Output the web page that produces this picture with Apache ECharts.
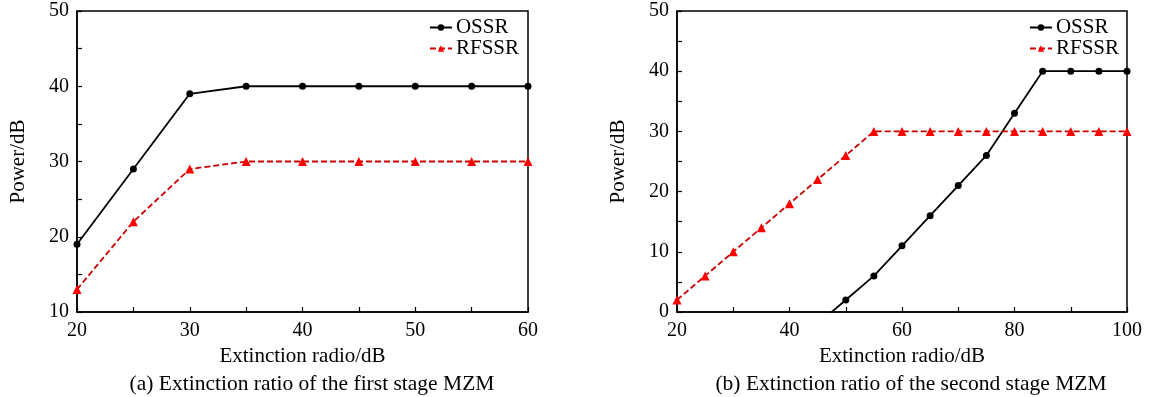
<!DOCTYPE html>
<html><head><meta charset="utf-8">
<script src="https://cdn.jsdelivr.net/npm/echarts@6/dist/echarts.min.js"></script>
<style>html,body{margin:0;padding:0;background:#fff}#c{width:1153px;height:397px}</style>
</head><body><div id="c"></div>
<script>
const xA = [20, 25, 30, 35, 40, 45, 50, 55, 60];
const ossrA = [19, 29, 39, 40, 40, 40, 40, 40, 40];
const rfssrA = [13, 22, 29, 30, 30, 30, 30, 30, 30];
const xB = [20, 25, 30, 35, 40, 45, 50, 55, 60, 65, 70, 75, 80, 85, 90, 95, 100];
const ossrB = [null, null, null, null, null, -2, 2, 6, 11, 16, 21, 26, 33, 40, 40, 40, 40];
const rfssrB = [2, 6, 10, 14, 18, 22, 26, 30, 30, 30, 30, 30, 30, 30, 30, 30, 30];
const captions = ['(a) Extinction ratio of the first stage MZM', '(b) Extinction ratio of the second stage MZM'];
const xName = 'Extinction radio/dB';
const yName = 'Power/dB';

const F = 'Liberation Serif';
const chart = echarts.init(document.getElementById('c'));
function pairs(xs, ys){ return xs.map((x,i)=>[x, ys[i]]).filter(p=>p[1]!==null); }
function xAxis(idx, min, max, interval){
  return {type:'value', gridIndex:idx, min, max, interval: interval/2,
    name:xName, nameLocation:'middle', nameGap:32, nameTextStyle:{fontFamily:F,fontSize:21,color:'#000'},
    axisLine:{lineStyle:{color:'#000',width:1.5}}, axisTick:{inside:true,length:5,lineStyle:{color:'#000',width:1.2}},
    axisLabel:{fontFamily:F,fontSize:20,color:'#000',margin:9,formatter:v=> (v-min)%interval===0 ? String(v) : ''},
    splitLine:{show:false}};
}
function yAxis(idx, min, max){
  return {type:'value', gridIndex:idx, min, max, interval:5,
    name:yName, nameLocation:'middle', nameGap:48, nameTextStyle:{fontFamily:F,fontSize:21,color:'#000'},
    axisLine:{show:true,lineStyle:{color:'#000',width:1.5}}, axisTick:{show:true,inside:true,length:5,lineStyle:{color:'#000',width:1.2}},
    axisLabel:{fontFamily:F,fontSize:20,color:'#000',margin:8,formatter:v=> v%10===0 ? String(v) : ''},
    splitLine:{show:false}};
}
function ossr(idx, data){
  return {name:'OSSR', type:'line', xAxisIndex:idx, yAxisIndex:idx, data, clip:true,
    symbol:'circle', symbolSize:7, itemStyle:{color:'#000'}, lineStyle:{color:'#000',width:1.8}};
}
function rfssr(idx, data){
  return {name:'RFSSR', type:'line', xAxisIndex:idx, yAxisIndex:idx, data, clip:true,
    symbol:'triangle', symbolSize:9, itemStyle:{color:'#ff0000'}, lineStyle:{color:'#cc0000',width:1.8,type:[6,3]}};
}
function legend(idx, right){
  return {show:true, right, top:12, orient:'vertical', itemGap:0, itemWidth:22, itemHeight:8,
    data:['OSSR','RFSSR'], textStyle:{fontFamily:F,fontSize:21,lineHeight:19,color:'#000',padding:[0,0,0,-1]}};
}
chart.setOption({
  animation:false,
  grid:[
    {left:77, right:625, top:11, bottom:85, show:true, borderColor:'#000', borderWidth:1.5},
    {left:677, right:26, top:11, bottom:85, show:true, borderColor:'#000', borderWidth:1.5}
  ],
  xAxis:[xAxis(0,20,60,10), xAxis(1,20,100,20)],
  yAxis:[yAxis(0,10,50), yAxis(1,0,50)],
  legend:[legend(0,629), legend(1,29)],
  title:[
    {text:captions[0], left:307, top:368, textAlign:'center', textStyle:{fontFamily:F,fontSize:21.5,fontWeight:'normal',color:'#000'}},
    {text:captions[1], left:906, top:368, textAlign:'center', textStyle:{fontFamily:F,fontSize:21.5,fontWeight:'normal',color:'#000'}}
  ],
  series:[ossr(0,pairs(xA,ossrA)), rfssr(0,pairs(xA,rfssrA)), ossr(1,pairs(xB,ossrB)), rfssr(1,pairs(xB,rfssrB))]
});
</script></body></html>
